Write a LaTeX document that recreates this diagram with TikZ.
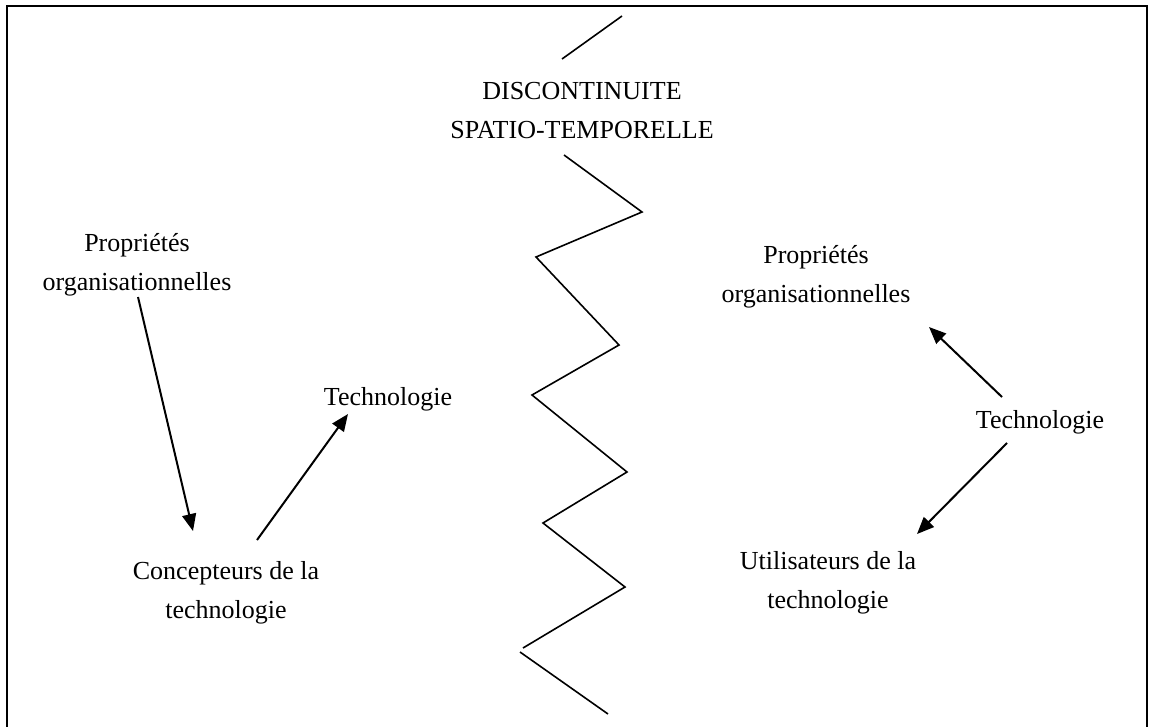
\documentclass[tikz,border=0pt]{standalone}
\usepackage{fontspec}
\setmainfont{Liberation Serif}
\usetikzlibrary{arrows.meta}
\begin{document}
\begin{tikzpicture}[x=1pt,y=-1pt,
  lbl/.style={font=\fontsize{26}{39}\selectfont, align=center, anchor=base, inner sep=0pt},
  arr/.style={line width=2pt, -{Triangle[length=17pt,width=14pt]}},
  zig/.style={line width=1.6pt, line join=miter},
  frame/.style={line width=2pt}]
\useasboundingbox (0,0) rectangle (1150,726);
\draw[frame] (7,730) -- (7,6) -- (1147,6) -- (1147,730);
% zigzag
\draw[zig] (622,16) -- (562,59);
\draw[zig] (564,155) -- (642,212) -- (536,257) -- (619,345) -- (532,395) -- (627,472) -- (543,523) -- (625,587) -- (523,648);
\draw[zig] (520,652) -- (608,714);
% labels (base anchor = baseline of last line)
\node[lbl] (title) at (582,138) {DISCONTINUITE\\SPATIO-TEMPORELLE};
\node[lbl] (propL) at (137,290) {Propriétés\\organisationnelles};
\node[lbl] (techL) at (388,405) {Technologie};
\node[lbl] (concL) at (226,618) {Concepteurs de la\\technologie};
\node[lbl] (propR) at (816,302) {Propriétés\\organisationnelles};
\node[lbl] (techR) at (1040,428) {Technologie};
\node[lbl] (utilR) at (828,608) {Utilisateurs de la\\technologie};
% arrow ends
\coordinate (a1s) at (138,297);
\coordinate (a1e) at (193,531);
\coordinate (a2s) at (257,540);
\coordinate (a2e) at (348,414);
\coordinate (a3s) at (1002,397);
\coordinate (a3e) at (929,327);
\coordinate (a4s) at (1007,443);
\coordinate (a4e) at (917,534);
\draw[arr] (a1s) -- (a1e);
\draw[arr] (a2s) -- (a2e);
\draw[arr] (a3s) -- (a3e);
\draw[arr] (a4s) -- (a4e);
\end{tikzpicture}
\end{document}
